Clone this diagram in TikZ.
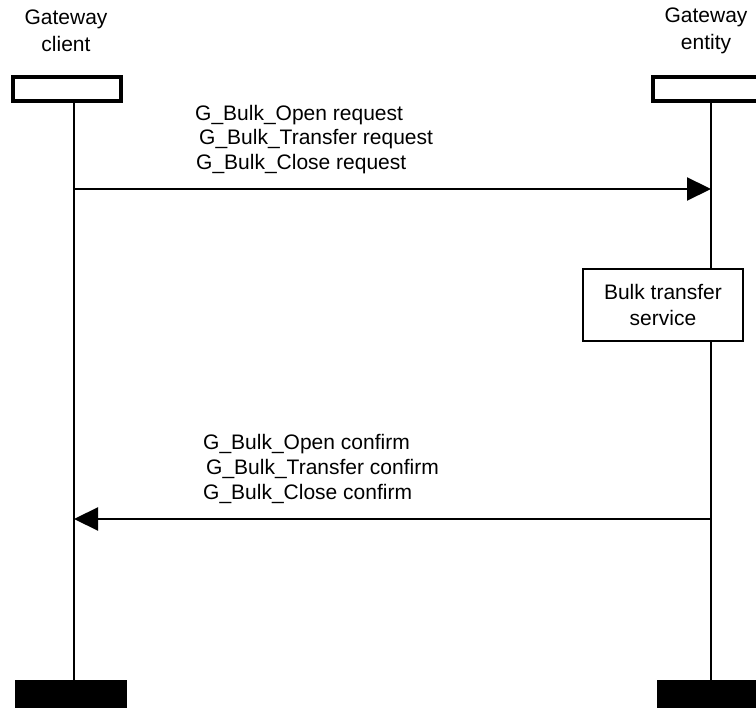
\documentclass[tikz,border=0pt]{standalone}
\usepackage{fontspec}
\setmainfont{Liberation Sans}
\usetikzlibrary{arrows.meta}
\begin{document}
\begin{tikzpicture}[x=1pt,y=-1pt,
  every node/.style={font=\fontsize{21}{26.5}\selectfont},
  headbox/.style={draw,line width=4pt,fill=white,inner sep=0pt,minimum width=108pt,minimum height=24pt},
  footbar/.style={fill=black,inner sep=0pt,minimum width=112pt,minimum height=34pt},
  lifeline/.style={line width=2.2pt},
  msg/.style={line width=2.2pt,-{Triangle[length=24pt,width=23pt]}},
  label/.style={anchor=base west,inner sep=0pt},
  procbox/.style={draw,line width=1.6pt,fill=white,align=center,inner sep=0pt,minimum width=160pt,minimum height=72pt}]
\clip (0,0) rectangle (756,708);
\fill[white] (0,0) rectangle (756,708);

% entity titles
\node[align=center] (tL) at (66,31) {Gateway\\client};
\node[align=center] (tR) at (706,31) {Gateway\\entity};

% instance heads and ends
\node[headbox] (hL) at (67,89) {};
\node[headbox,minimum width=120pt] (hR) at (713,89) {};
\node[footbar] (fL) at (71,697) {};
\node[footbar,minimum width=120pt] (fR) at (717,697) {};

% lifeline abscissae
\coordinate (xL) at (74,0);
\coordinate (xR) at (711,0);

% lifelines
\draw[lifeline] (hL.south -| xL) -- (fL.north -| xL);
\draw[lifeline] (hR.south -| xR) -- (fR.north -| xR);

% local action on the entity side
\node[procbox] (bulk) at (663,305) {Bulk transfer\\service};

% requests
\coordinate (reqL) at (74,189);
\coordinate (reqR) at (711,189);
\draw[msg] (reqL) -- (reqR);
\node[label] (rq1) at (195,121) {G\_Bulk\_Open request};
\node[label] (rq2) at (199,145) {G\_Bulk\_Transfer request};
\node[label] (rq3) at (196,170) {G\_Bulk\_Close request};

% confirms
\coordinate (cfR) at (711,519);
\coordinate (cfL) at (74,519);
\draw[msg] (cfR) -- (cfL);
\node[label] (cf1) at (203,450) {G\_Bulk\_Open confirm};
\node[label] (cf2) at (206,475) {G\_Bulk\_Transfer confirm};
\node[label] (cf3) at (203,500) {G\_Bulk\_Close confirm};
\end{tikzpicture}
\end{document}
